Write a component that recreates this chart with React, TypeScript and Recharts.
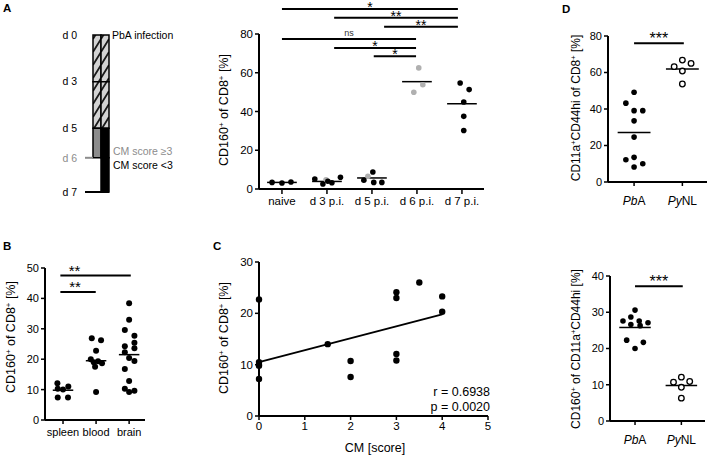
import React from "react";
import {
  ScatterChart,
  Scatter,
  XAxis,
  YAxis,
  ReferenceLine,
  BarChart,
  Bar,
  Cell,
} from "recharts";

const FONT = "'Liberation Sans', Arial, Helvetica, sans-serif";
const INK = "#000";
const GREY = "#b0b0b0";

// ---- A (left): infection timeline, schematic (spacing as drawn, not to scale)
const dayLabels = ["d 0", "d 3", "d 5", "d 6", "d 7"];
const dayPos = [0, 3, 6, 7.9, 10.1];
const dayColors = [INK, INK, INK, "#8c8c8c", INK];
const dayTickLen = [0, 0, 0, 8, 24];
const timeline = [
  { group: "CM>=3", d0d3: 3, d3d5: 3, d5d6: 1.9, d6d7: 0 },
  { group: "CM<3", d0d3: 3, d3d5: 3, d5d6: 1.9, d6d7: 2.2 },
];
const lateFill = ["#8c8c8c", INK];

// ---- A (right): CD160+ of CD8+ over time
const aGroups = ["naive", "d 3 p.i.", "d 5 p.i.", "d 6 p.i.", "d 7 p.i."];
const aBlack = [
  { x: 0.78, y: 3.4 }, { x: 1.0, y: 3.1 }, { x: 1.2, y: 3.6 },
  { x: 1.73, y: 5.1 }, { x: 1.91, y: 2.6 }, { x: 2.02, y: 4.0 }, { x: 2.11, y: 3.2 }, { x: 2.3, y: 6.1 },
  { x: 2.82, y: 4.5 }, { x: 3.02, y: 8.8 }, { x: 3.04, y: 3.4 }, { x: 3.22, y: 3.4 },
  { x: 4.96, y: 54.7 }, { x: 5.16, y: 51.3 }, { x: 5.04, y: 44.9 }, { x: 5.04, y: 37.5 }, { x: 5.04, y: 30.2 },
];
const aGrey = [
  { x: 1.98, y: 4.8 }, { x: 2.91, y: 6.6 },
  { x: 4.04, y: 62.5 }, { x: 4.13, y: 53.8 }, { x: 3.93, y: 49.9 },
];
const aMeans = [3.4, 3.9, 5.7, 55.4, 44.0];
const aSig = [
  { from: 1, to: 4.91, y: 92.9, mark: "*" },
  { from: 2.16, to: 4.91, y: 88.4, mark: "**" },
  { from: 3.27, to: 4.91, y: 83.8, mark: "**" },
  { from: 1, to: 3.98, y: 77.4, mark: "ns" },
  { from: 2.16, to: 3.98, y: 72.8, mark: "*" },
  { from: 3.04, to: 3.98, y: 68.5, mark: "*" },
];

// ---- B: organs
const bGroups = ["spleen", "blood", "brain"];
const bPoints = [
  { x: 0.83, y: 12.1 }, { x: 1.16, y: 11.0 }, { x: 0.84, y: 10.3 }, { x: 1.0, y: 10.0 }, { x: 0.84, y: 7.4 }, { x: 1.15, y: 7.4 },
  { x: 1.87, y: 26.9 }, { x: 2.15, y: 26.2 }, { x: 2.0, y: 22.8 }, { x: 1.84, y: 20.0 }, { x: 1.93, y: 19.0 },
  { x: 2.06, y: 19.3 }, { x: 2.18, y: 18.7 }, { x: 1.97, y: 17.5 }, { x: 2.0, y: 9.2 },
  { x: 3.0, y: 38.4 }, { x: 3.0, y: 33.0 }, { x: 2.87, y: 29.6 }, { x: 3.16, y: 27.7 }, { x: 3.16, y: 25.4 },
  { x: 2.87, y: 24.3 }, { x: 3.16, y: 23.6 }, { x: 2.87, y: 22.3 }, { x: 3.0, y: 20.4 }, { x: 3.16, y: 19.4 },
  { x: 2.87, y: 16.8 }, { x: 3.0, y: 12.8 }, { x: 2.87, y: 10.3 }, { x: 3.0, y: 9.2 }, { x: 3.16, y: 9.6 },
];
const bMeans = [9.8, 19.5, 21.5];
const bSig = [
  { from: 0.92, to: 3.05, y: 47.5, mark: "**", shift: -21 },
  { from: 0.92, to: 1.99, y: 42.1, mark: "**", shift: -3 },
];

// ---- C: correlation with CM score
const cPoints = [
  { x: 0, y: 22.7 }, { x: 0, y: 10.5 }, { x: 0, y: 10.0 }, { x: 0, y: 9.8 }, { x: 0, y: 7.2 },
  { x: 1.5, y: 14.0 },
  { x: 2, y: 10.7 }, { x: 2, y: 7.6 },
  { x: 3, y: 24.1 }, { x: 3, y: 23.0 }, { x: 3, y: 12.1 }, { x: 3, y: 10.8 },
  { x: 3.5, y: 26.0 },
  { x: 4, y: 23.3 }, { x: 4, y: 20.3 },
];
const cFit = [{ x: 0, y: 10.5 }, { x: 4, y: 19.8 }];
const cStats = ["r = 0.6938", "p = 0.0020"];

// ---- D: PbA vs PyNL
const dItalic = ["Pb", "Py"];
const dPlain = ["A", "NL"];
const dTopPbA = [
  { x: 1.0, y: 49.2 }, { x: 0.83, y: 43.2 }, { x: 1.0, y: 39.1 }, { x: 1.18, y: 39.1 }, { x: 1.0, y: 33.5 },
  { x: 1.0, y: 24.6 }, { x: 0.83, y: 12.2 }, { x: 1.0, y: 13.5 }, { x: 1.18, y: 10.0 }, { x: 1.0, y: 8.2 },
];
const dTopPyNL = [
  { x: 1.83, y: 63.2 }, { x: 2.0, y: 66.8 }, { x: 2.18, y: 65.0 }, { x: 2.0, y: 60.8 }, { x: 2.0, y: 53.7 },
];
const dTopMeans = [27.1, 61.9];
const dBotPbA = [
  { x: 1.0, y: 30.6 }, { x: 0.91, y: 28.7 }, { x: 0.74, y: 27.6 }, { x: 1.09, y: 27.6 }, { x: 1.28, y: 27.1 },
  { x: 0.91, y: 26.6 }, { x: 1.11, y: 26.3 }, { x: 0.82, y: 22.3 }, { x: 1.18, y: 21.7 }, { x: 1.0, y: 20.0 },
];
const dBotPyNL = [
  { x: 1.83, y: 10.7 }, { x: 2.0, y: 12.1 }, { x: 2.18, y: 10.9 }, { x: 2.0, y: 9.3 }, { x: 2.0, y: 6.3 },
];
const dBotMeans = [25.8, 9.8];

// axis titles: [text, superscript?]
const titleCD160: [string, boolean][] = [["CD160", false], ["+", true], [" of CD8", false], ["+", true], [" [%]", false]];
const titleDTop: [string, boolean][] = [["CD11a", false], ["+", true], ["CD44hi of CD8", false], ["+", true], [" [%]", false]];
const titleDBot: [string, boolean][] = [["CD160", false], ["+", true], [" of CD11a", false], ["+", true], ["CD44hi [%]", false]];

const axisLine = { stroke: INK, strokeWidth: 2 };
const tickLine = { stroke: INK, strokeWidth: 1.5 };
const numTick = { fontSize: 11, fill: INK, fontFamily: FONT };

const solid = (fill: string, r: number) => (p: any) => (
  <circle cx={p.cx} cy={p.cy} r={r} fill={fill} />
);
const hollow = (p: any) => (
  <circle cx={p.cx} cy={p.cy} r={2.8} fill="#fff" stroke={INK} strokeWidth={1.3} />
);

function meanLine(center: number, y: number, half: number, key: string) {
  return (
    <ReferenceLine
      key={key}
      segment={[{ x: center - half, y }, { x: center + half, y }]}
      stroke={INK}
      strokeWidth={1.5}
      ifOverflow="visible"
    />
  );
}

function sigLine(s: any, key: string, size: number, offset: number) {
  const ns = s.mark === "ns";
  return (
    <ReferenceLine
      key={key}
      segment={[{ x: s.from, y: s.y }, { x: s.to, y: s.y }]}
      stroke={INK}
      strokeWidth={2}
      ifOverflow="visible"
      label={{
        value: s.mark,
        position: "top",
        offset: ns ? 3 : offset,
        dx: s.shift || 0,
        fontSize: ns ? 9 : size,
        fill: ns ? "#333" : INK,
        fontFamily: FONT,
      }}
    />
  );
}

const DayTick = (props: any) => {
  const { x, y, payload } = props;
  const i = dayPos.indexOf(payload.value);
  return (
    <g>
      <text x={x - 8} y={y} dy={3.8} textAnchor="end" fill={dayColors[i]} fontSize={10.5} fontFamily={FONT}>
        {dayLabels[i]}
      </text>
      {dayTickLen[i] > 0 && (
        <line x1={x} x2={x + dayTickLen[i]} y1={y} y2={y} stroke={dayColors[i]} strokeWidth={2} />
      )}
    </g>
  );
};

const SpeciesTick = (props: any) => {
  const { x, y, payload } = props;
  const i = Math.round(payload.value) - 1;
  return (
    <text x={x} y={y} dy={9} textAnchor="middle" fontSize={12} fontFamily={FONT} fill={INK}>
      <tspan fontStyle="italic">{dItalic[i]}</tspan>
      <tspan>{dPlain[i]}</tspan>
    </text>
  );
};

function VTitle({ x, y, size, parts }: { x: number; y: number; size: number; parts: [string, boolean][] }) {
  const shift = size * 0.36;
  return (
    <text
      x={x}
      y={y}
      transform={`rotate(-90 ${x} ${y})`}
      textAnchor="middle"
      fontSize={size}
      fontFamily={FONT}
      fill={INK}
    >
      {parts.map(([t, sup], i) => {
        const prevSup = i > 0 && parts[i - 1][1];
        const dy = sup ? -shift : prevSup ? shift : 0;
        return (
          <tspan key={i} dy={dy} fontSize={sup ? size * 0.62 : size}>
            {t}
          </tspan>
        );
      })}
    </text>
  );
}

function Timeline() {
  return (
    <BarChart
      width={115}
      height={200}
      data={timeline}
      margin={{ top: 35, right: 6, bottom: 8, left: 0 }}
      barCategoryGap={0}
      barGap={0}
    >
      <defs>
        <pattern id="hatch" patternUnits="userSpaceOnUse" width="8" height="13" patternTransform="translate(5 0)">
          <rect width="8" height="13" fill="#d3d3d3" />
          <path d="M0,13 L8,0 M-2,2 L1,-2 M7,15 L10,11" stroke="#1a1a1a" strokeWidth="1.8" />
        </pattern>
      </defs>
      <XAxis dataKey="group" hide />
      <YAxis
        type="number"
        reversed
        domain={[0, 10.1]}
        ticks={dayPos}
        interval={0}
        width={93}
        axisLine={false}
        tickLine={false}
        tickSize={8}
        tickMargin={0}
        tick={<DayTick />}
      />
      <Bar dataKey="d0d3" stackId="t" fill="url(#hatch)" stroke={INK} strokeWidth={1.5} isAnimationActive={false} />
      <Bar dataKey="d3d5" stackId="t" fill="url(#hatch)" stroke={INK} strokeWidth={1.5} isAnimationActive={false} />
      <Bar dataKey="d5d6" stackId="t" stroke={INK} strokeWidth={1.5} isAnimationActive={false}>
        {timeline.map((t, i) => (
          <Cell key={t.group} fill={lateFill[i]} />
        ))}
      </Bar>
      <Bar dataKey="d6d7" stackId="t" fill={INK} stroke={INK} strokeWidth={1.5} isAnimationActive={false} />
    </BarChart>
  );
}

function PanelA() {
  return (
    <ScatterChart width={290} height={215} margin={{ top: 34, right: 6, bottom: 0, left: 0 }}>
      <XAxis
        type="number"
        dataKey="x"
        domain={[0.49, 5.49]}
        ticks={[1, 2, 3, 4, 5]}
        interval={0}
        tickFormatter={(v: number) => aGroups[v - 1]}
        height={26}
        axisLine={axisLine}
        tickLine={tickLine}
        tickSize={5}
        tickMargin={3}
        tick={{ ...numTick, fontSize: 11.5 }}
      />
      <YAxis
        type="number"
        dataKey="y"
        domain={[0, 80]}
        ticks={[0, 20, 40, 60, 80]}
        interval={0}
        width={59}
        axisLine={axisLine}
        tickLine={tickLine}
        tickSize={4}
        tickMargin={2}
        tick={{ ...numTick, fontSize: 11.5 }}
      />
      <Scatter data={aGrey} shape={solid(GREY, 2.8)} isAnimationActive={false} />
      <Scatter data={aBlack} shape={solid(INK, 2.8)} isAnimationActive={false} />
      {aMeans.map((m, i) => meanLine(i + 1, m, 0.33, "am" + i))}
      {aSig.map((s, i) => sigLine(s, "as" + i, 14, -3))}
    </ScatterChart>
  );
}

function PanelB() {
  return (
    <ScatterChart width={150} height={206} margin={{ top: 28, right: 5, bottom: 0, left: 0 }}>
      <XAxis
        type="number"
        dataKey="x"
        domain={[0.455, 3.48]}
        ticks={[1, 2, 3]}
        interval={0}
        tickFormatter={(v: number) => bGroups[v - 1]}
        height={26}
        axisLine={axisLine}
        tickLine={tickLine}
        tickSize={4}
        tickMargin={4}
        tick={numTick}
      />
      <YAxis
        type="number"
        dataKey="y"
        domain={[0, 50]}
        ticks={[0, 10, 20, 30, 40, 50]}
        interval={0}
        width={45}
        axisLine={axisLine}
        tickLine={tickLine}
        tickSize={4}
        tickMargin={2}
        tick={numTick}
      />
      <Scatter data={bPoints} shape={solid(INK, 3)} isAnimationActive={false} />
      {bMeans.map((m, i) => meanLine(i + 1, m, 0.31, "bm" + i))}
      {bSig.map((s, i) => sigLine(s, "bs" + i, 15, 0))}
    </ScatterChart>
  );
}

function PanelC() {
  return (
    <ScatterChart width={295} height={198} margin={{ top: 22, right: 7, bottom: 0, left: 0 }}>
      <XAxis
        type="number"
        dataKey="x"
        domain={[0, 5]}
        ticks={[0, 1, 2, 3, 4, 5]}
        interval={0}
        height={22}
        axisLine={axisLine}
        tickLine={tickLine}
        tickSize={4}
        tickMargin={2}
        tick={{ ...numTick, fontSize: 11.5 }}
      />
      <YAxis
        type="number"
        dataKey="y"
        domain={[0, 30]}
        ticks={[0, 10, 20, 30]}
        interval={0}
        width={59}
        axisLine={axisLine}
        tickLine={tickLine}
        tickSize={4}
        tickMargin={2}
        tick={{ ...numTick, fontSize: 11.5 }}
      />
      <ReferenceLine segment={cFit} stroke={INK} strokeWidth={2} ifOverflow="visible" />
      <Scatter data={cPoints} shape={solid(INK, 3.2)} isAnimationActive={false} />
    </ScatterChart>
  );
}

function PanelD({ pba, pynl, means, max, ticks, sigY, top, height, yWidth, right }: any) {
  return (
    <ScatterChart width={168} height={height} margin={{ top, right, bottom: 0, left: 0 }}>
      <XAxis
        type="number"
        dataKey="x"
        domain={[0.46, 2.51]}
        ticks={[1, 2]}
        interval={0}
        height={30}
        axisLine={axisLine}
        tickLine={tickLine}
        tickSize={4}
        tickMargin={10}
        tick={<SpeciesTick />}
      />
      <YAxis
        type="number"
        dataKey="y"
        domain={[0, max]}
        ticks={ticks}
        interval={0}
        width={yWidth}
        axisLine={axisLine}
        tickLine={tickLine}
        tickSize={4}
        tickMargin={2}
        tick={numTick}
      />
      <Scatter data={pba} shape={solid(INK, 2.8)} isAnimationActive={false} />
      <Scatter data={pynl} shape={hollow} isAnimationActive={false} />
      {means.map((m: number, i: number) => meanLine(i + 1, m, 0.34, "dm" + i))}
      {sigLine({ from: 1, to: 2.03, y: sigY, mark: "***" }, "ds", 16, -1)}
    </ScatterChart>
  );
}

const place = (left: number, top: number): React.CSSProperties => ({
  position: "absolute",
  left,
  top,
});

export default function App() {
  return (
    <div
      style={{
        position: "absolute",
        left: 0,
        top: 0,
        width: 708,
        height: 458,
        background: "#fff",
        overflow: "hidden",
        fontFamily: FONT,
      }}
    >
      <div style={place(0, 0)}>
        <Timeline />
      </div>
      <div style={place(200, 0)}>
        <PanelA />
      </div>
      <div style={place(0, 240)}>
        <PanelB />
      </div>
      <div style={place(200, 240)}>
        <PanelC />
      </div>
      <div style={place(540, 0)}>
        <PanelD
          pba={dTopPbA}
          pynl={dTopPyNL}
          means={dTopMeans}
          max={80}
          ticks={[0, 20, 40, 60, 80]}
          sigY={76}
          top={36}
          height={212}
          yWidth={68}
          right={1}
        />
      </div>
      <div style={place(540, 250)}>
        <PanelD
          pba={dBotPbA}
          pynl={dBotPyNL}
          means={dBotMeans}
          max={40}
          ticks={[0, 10, 20, 30, 40]}
          sigY={37.2}
          top={26}
          height={201}
          yWidth={70}
          right={3}
        />
      </div>
      <svg
        width={708}
        height={458}
        style={{ position: "absolute", left: 0, top: 0, pointerEvents: "none" }}
      >
        <g fontFamily={FONT} fontWeight="bold" fontSize={11.5} fill={INK}>
          <text x={3} y={12}>A</text>
          <text x={3} y={250}>B</text>
          <text x={213} y={250}>C</text>
          <text x={562} y={12.5}>D</text>
        </g>
        <g fontFamily={FONT} fontSize={10.5}>
          <text x={112} y={39} fill={INK}>PbA infection</text>
          <text x={113} y={155} fill="#8c8c8c">CM score ≥3</text>
          <text x={113} y={169} fill={INK}>CM score &lt;3</text>
        </g>
        <VTitle x={228} y={110} size={12.5} parts={titleCD160} />
        <VTitle x={15} y={337} size={12.5} parts={titleCD160} />
        <VTitle x={228} y={338} size={12.5} parts={titleCD160} />
        <VTitle x={580} y={108} size={12} parts={titleDTop} />
        <VTitle x={580} y={349} size={12} parts={titleDBot} />
        <text x={375} y={452} textAnchor="middle" fontSize={12.5} fontFamily={FONT} fill={INK}>
          CM [score]
        </text>
        <g fontFamily={FONT} fontSize={12.5} fill={INK} textAnchor="end">
          <text x={490} y={396}>{cStats[0]}</text>
          <text x={490} y={411}>{cStats[1]}</text>
        </g>
      </svg>
    </div>
  );
}
